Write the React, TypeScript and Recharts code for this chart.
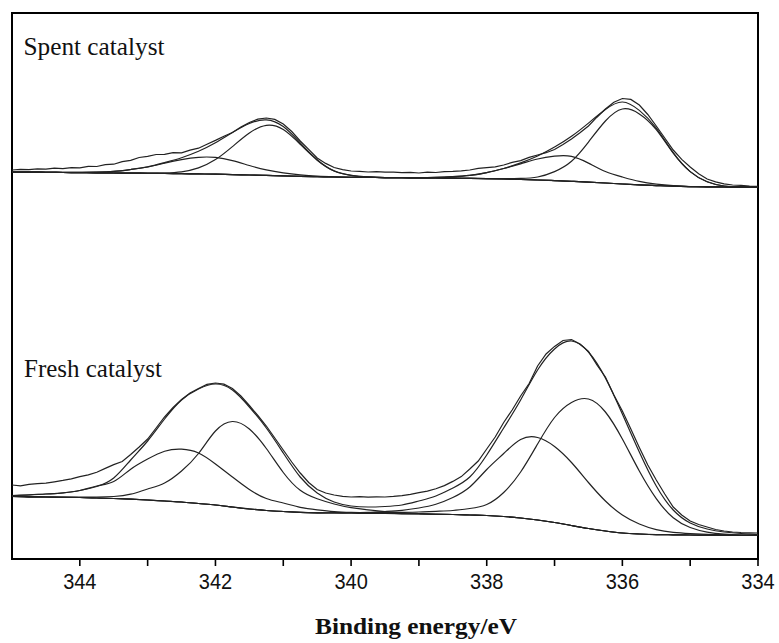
import React from "react";
import { LineChart, Line, XAxis, YAxis, ReferenceArea } from "recharts";

// Binding energy grid (eV) for the fitted curves
const EV = [345, 344.75, 344.5, 344.25, 344, 343.75, 343.5, 343.25, 343, 342.75, 342.5, 342.25, 342, 341.75, 341.5, 341.25, 341, 340.75, 340.5, 340.25, 340, 339.75, 339.5, 339.25, 339, 338.75, 338.5, 338.25, 338, 337.75, 337.5, 337.25, 337, 336.75, 336.5, 336.25, 336, 335.75, 335.5, 335.25, 335, 334.75, 334.5, 334.25, 334];

// Finer grid for the measured (raw) spectra
const EV_FINE = [345, 344.875, 344.75, 344.625, 344.5, 344.375, 344.25, 344.125, 344, 343.875, 343.75, 343.625, 343.5, 343.375, 343.25, 343.125, 343, 342.875, 342.75, 342.625, 342.5, 342.375, 342.25, 342.125, 342, 341.875, 341.75, 341.625, 341.5, 341.375, 341.25, 341.125, 341, 340.875, 340.75, 340.625, 340.5, 340.375, 340.25, 340.125, 340, 339.875, 339.75, 339.625, 339.5, 339.375, 339.25, 339.125, 339, 338.875, 338.75, 338.625, 338.5, 338.375, 338.25, 338.125, 338, 337.875, 337.75, 337.625, 337.5, 337.375, 337.25, 337.125, 337, 336.875, 336.75, 336.625, 336.5, 336.375, 336.25, 336.125, 336, 335.875, 335.75, 335.625, 335.5, 335.375, 335.25, 335.125, 335, 334.875, 334.75, 334.625, 334.5, 334.375, 334.25, 334.125, 334];

const X_TICKS = [344, 343, 342, 341, 340, 339, 338, 337, 336, 335, 334];

// ---- Spent catalyst (offset upward) ----
const SPENT_RAW = [389, 389.6, 389.3, 390.2, 389.8, 390.8, 390.4, 391.3, 391.2, 392.6, 392.5, 394.3, 394.8, 397.4, 398.6, 401.5, 402.6, 404.5, 404.6, 406.4, 406.2, 408.9, 410.8, 414.8, 418.6, 422.8, 426.5, 431.9, 436.5, 439.8, 441, 439.6, 435, 427.5, 418, 409.6, 401, 395.6, 391.5, 389.4, 388, 387.6, 387, 387.4, 386.8, 386.9, 386.4, 386.6, 386, 386.8, 386.5, 387.4, 387.6, 388.1, 389, 390.6, 391.4, 392.2, 394, 396.6, 398.4, 401.6, 404, 406.3, 409.5, 414.6, 420, 426.2, 433, 441.8, 450, 456.8, 460.5, 459.6, 454, 444.5, 433, 421, 409, 399.6, 392, 385.2, 380, 377.2, 375.2, 374, 373.6, 372.9, 372.6];
const SPENT_BG = [387, 386.9, 386.7, 386.5, 386.4, 386.2, 386, 385.9, 385.7, 385.5, 385.3, 385.1, 384.8, 384.4, 384, 383.6, 383.1, 382.7, 382.3, 382, 381.7, 381.6, 381.4, 381.3, 381.1, 381, 380.8, 380.6, 380.4, 380, 379.6, 379, 378.4, 377.7, 376.9, 376, 375, 374.1, 373.4, 372.8, 372.4, 372.2, 372, 371.9, 371.8];
const SPENT_FIT = [387, 386.9, 386.7, 386.6, 386.6, 386.9, 387.6, 389.5, 392.1, 396.4, 401.3, 407.7, 416.2, 426.4, 435.5, 439.1, 432.4, 416.1, 399.3, 388.1, 383.7, 382.1, 381.4, 381.3, 381.3, 381.6, 382.3, 383.6, 386.4, 390.5, 396.1, 403, 411.9, 422.7, 435.9, 449.5, 457, 448.6, 430.9, 406.3, 387.4, 377.2, 373, 372.1, 371.8];
const SPENT_C1 = [387, 386.9, 386.75, 386.6, 386.6, 386.9, 387.6, 389.5, 392, 395.8, 399.4, 401.7, 401.6, 398.4, 393.5, 389.1, 386.1, 384.1, 382.8, 382.1, 381.7, 381.6, 381.4, 381.3, 381.1, 381, 380.8, 380.6, 380.4, 380, 379.6, 379, 378.4, 377.7, 376.9, 376, 375, 374.1, 373.4, 372.8, 372.4, 372.2, 372, 371.9, 371.8];
const SPENT_C2 = [387, 386.9, 386.7, 386.5, 386.4, 386.2, 386, 385.9, 385.8, 386.1, 387.2, 391.1, 399.4, 412.4, 426, 433.6, 429.4, 414.7, 398.8, 388, 383.7, 382.1, 381.4, 381.3, 381.1, 381, 380.8, 380.6, 380.4, 380, 379.6, 379, 378.4, 377.7, 376.9, 376, 375, 374.1, 373.4, 372.8, 372.4, 372.2, 372, 371.9, 371.8];
const SPENT_C3 = [387, 386.9, 386.7, 386.5, 386.4, 386.2, 386, 385.9, 385.7, 385.5, 385.3, 385.1, 384.8, 384.4, 384, 383.6, 383.1, 382.7, 382.3, 382, 381.7, 381.6, 381.4, 381.3, 381.3, 381.6, 382.3, 383.6, 386.4, 390.5, 395.1, 400, 402.9, 402.7, 395.9, 387.5, 382, 377.6, 374.9, 373.3, 372.4, 372.2, 372, 371.9, 371.8];
const SPENT_C4 = [387, 386.9, 386.7, 386.5, 386.4, 386.2, 386, 385.9, 385.7, 385.5, 385.3, 385.1, 384.8, 384.4, 384, 383.6, 383.1, 382.7, 382.3, 382, 381.7, 381.6, 381.4, 381.3, 381.1, 381, 380.8, 380.6, 380.4, 380.3, 380.6, 382, 387.4, 397.7, 416.9, 438, 450, 445.1, 429.4, 405.8, 387.4, 377.2, 373, 371.9, 371.8];

// ---- Fresh catalyst ----
const FRESH_RAW = [74, 73.2, 74.6, 75.4, 75.8, 77.2, 78.6, 80.2, 82.4, 84.2, 86.8, 90.6, 94.4, 97.5, 104.5, 112, 120, 131, 142, 151.5, 159.5, 166, 170.5, 174.6, 176, 174.8, 170.5, 163, 153.5, 143.5, 133, 121, 109, 97, 86, 76.5, 69.5, 66, 64, 62.6, 62, 62.4, 61.8, 62.2, 62, 62.6, 63.4, 64.6, 66.4, 67.8, 70.2, 73.4, 77.6, 82.4, 90, 98, 110, 122, 136.5, 149, 163, 175.5, 193, 205, 212.6, 218.5, 219.5, 215, 207.5, 194, 182, 164, 148, 130, 111.5, 94, 79, 65, 52, 44, 38, 34.5, 32, 29.5, 28, 27, 26.5, 26.2, 26];
const FRESH_BG = [62.5, 62.2, 62, 61.7, 61.5, 61, 60.5, 59.8, 59, 58, 57, 55.5, 54, 52, 50, 48.5, 47.5, 46.7, 46.2, 46, 45.8, 45.6, 45.5, 45.2, 45, 44.7, 44.5, 44, 43.5, 42.5, 41, 39, 36.5, 33.5, 30.5, 28, 26, 25, 24.4, 24.2, 24, 23.9, 23.8, 23.7, 23.7];
const FRESH_FIT = [63.5, 64, 65, 66, 68.5, 72.5, 81, 99, 118, 140, 159, 170, 175, 169, 152, 131, 106, 82, 66, 57, 53, 52, 52.5, 54, 58, 63, 71, 82, 104, 131, 159, 189, 210, 218, 207, 181, 145, 107, 73, 49, 36, 30, 27, 25.5, 24.5];
const FRESH_C1 = [63.5, 64.2, 65, 66.2, 68.5, 73, 77.5, 89.8, 100, 107.8, 109.8, 106, 95, 82, 69.5, 60.5, 56, 51.7, 49.2, 47.5, 46.6, 46.1, 45.8, 45.3, 45, 44.7, 44.5, 44, 43.5, 42.5, 41, 39, 36.5, 33.5, 30.5, 28, 26, 25, 24.4, 24.2, 24, 23.9, 23.8, 23.7, 23.7];
const FRESH_C2 = [62.5, 62.2, 62, 61.8, 62, 62, 62.5, 64.8, 70, 76, 88, 105.5, 128, 137.5, 130, 110.5, 86.5, 68.7, 60.2, 55, 51.3, 49.1, 47.5, 46.2, 45.5, 44.9, 44.5, 44, 43.5, 42.5, 41, 39, 36.5, 33.5, 30.5, 28, 26, 25, 24.4, 24.2, 24, 23.9, 23.8, 23.7, 23.7];
const FRESH_C3 = [62.5, 62.2, 62, 61.7, 61.5, 61, 60.5, 59.8, 59, 58, 57, 55.5, 54, 52, 50, 48.5, 47.5, 46.7, 46.2, 46.3, 46.3, 46.6, 47.5, 48.7, 51, 54.7, 61.5, 72, 89.5, 105.5, 119.5, 121.5, 112.5, 96.5, 76.5, 58, 44, 35, 29.4, 26.7, 25.5, 24.7, 24.1, 23.7, 23.7];
const FRESH_C4 = [62.5, 62.2, 62, 61.7, 61.5, 61, 60.5, 59.8, 59, 58, 57, 55.5, 54, 52, 50, 48.5, 47.5, 46.7, 46.2, 46, 46.3, 46.4, 46.5, 46.7, 47, 47.7, 48.5, 50.5, 54.5, 66.5, 87, 115, 141.5, 156.5, 160, 147, 120, 88, 60.4, 41.2, 31.5, 26.9, 24.8, 24, 23.7];

const toPts = (xs: number[], ys: number[]) => xs.map((x, i) => ({ x, y: ys[i] }));

const SERIES = [
  { key: "spentBg", data: toPts(EV, SPENT_BG), type: "monotone" },
  { key: "spentC1", data: toPts(EV, SPENT_C1), type: "natural" },
  { key: "spentC2", data: toPts(EV, SPENT_C2), type: "natural" },
  { key: "spentC3", data: toPts(EV, SPENT_C3), type: "natural" },
  { key: "spentC4", data: toPts(EV, SPENT_C4), type: "natural" },
  { key: "spentFit", data: toPts(EV, SPENT_FIT), type: "natural" },
  { key: "spentRaw", data: toPts(EV_FINE, SPENT_RAW), type: "linear" },
  { key: "freshBg", data: toPts(EV, FRESH_BG), type: "monotone" },
  { key: "freshC1", data: toPts(EV, FRESH_C1), type: "natural" },
  { key: "freshC2", data: toPts(EV, FRESH_C2), type: "natural" },
  { key: "freshC3", data: toPts(EV, FRESH_C3), type: "natural" },
  { key: "freshC4", data: toPts(EV, FRESH_C4), type: "natural" },
  { key: "freshFit", data: toPts(EV, FRESH_FIT), type: "natural" },
  { key: "freshRaw", data: toPts(EV_FINE, FRESH_RAW), type: "linear" },
];

const TickLabel = (props: any) => {
  const { x, payload } = props;
  if (payload.value % 2 !== 0) return <g />;
  return (
    <g transform={`translate(${x},589) scale(1,1.12)`}>
      <text
        x={0}
        y={0}
        textAnchor="middle"
        fontFamily="'Liberation Sans', Arial, sans-serif"
        fontSize={20}
        fill="#111"
      >
        {payload.value}
      </text>
    </g>
  );
};

export default function App() {
  return (
    <div style={{ position: "absolute", left: 0, top: 0, width: 779, height: 643, background: "#fff" }}>
      <LineChart width={779} height={643} margin={{ top: 13, right: 21, left: 12, bottom: 24 }}>
        <XAxis
          type="number"
          dataKey="x"
          domain={[334, 345]}
          reversed
          allowDataOverflow
          ticks={X_TICKS}
          interval={0}
          height={60}
          tickSize={7}
          axisLine={{ stroke: "#000", strokeWidth: 2 }}
          tickLine={{ stroke: "#000", strokeWidth: 1.6 }}
          tick={<TickLabel />}
        />
        <YAxis type="number" domain={[0, 546]} hide allowDataOverflow />
        <ReferenceArea
          x1={345}
          x2={334}
          y1={0}
          y2={546}
          fill="none"
          fillOpacity={0}
          stroke="#000"
          strokeWidth={2}
          ifOverflow="visible"
        />
        {SERIES.map((s) => (
          <Line
            key={s.key}
            data={s.data}
            dataKey="y"
            type={s.type as any}
            stroke="#222"
            strokeWidth={1.2}
            dot={false}
            activeDot={false}
            isAnimationActive={false}
          />
        ))}
      </LineChart>
      <svg
        width={779}
        height={643}
        style={{ position: "absolute", left: 0, top: 0, pointerEvents: "none" }}
      >
        <text x={23.5} y={54.5} fontFamily="'Liberation Serif', 'Times New Roman', serif" fontSize={25} fill="#111" textLength={141} lengthAdjust="spacingAndGlyphs">
          Spent catalyst
        </text>
        <text x={24} y={377} fontFamily="'Liberation Serif', 'Times New Roman', serif" fontSize={25} fill="#111" textLength={138} lengthAdjust="spacingAndGlyphs">
          Fresh catalyst
        </text>
        <text x={315} y={634} fontFamily="'Liberation Serif', 'Times New Roman', serif" fontWeight="bold" fontSize={23} fill="#111" textLength={202} lengthAdjust="spacingAndGlyphs">
          Binding energy/eV
        </text>
      </svg>
    </div>
  );
}
